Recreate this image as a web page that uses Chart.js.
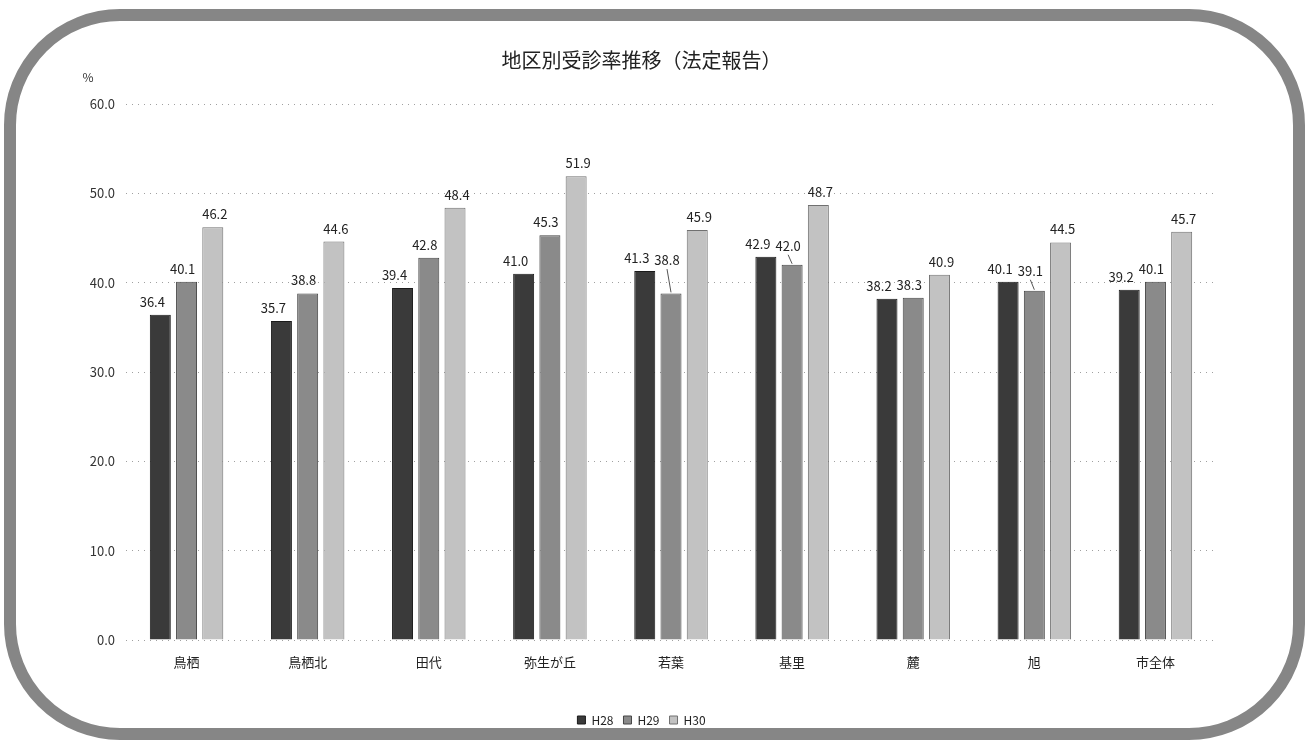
<!DOCTYPE html>
<html lang="ja">
<head>
<meta charset="utf-8">
<title>地区別受診率推移（法定報告）</title>
<script src="https://cdn.jsdelivr.net/npm/chart.js@4/dist/chart.umd.min.js"></script>
<style>
  html, body { margin: 0; padding: 0; background: #ffffff; }
  #wrap { width: 1309px; height: 740px; }
</style>
</head>
<body>
<div id="wrap"><canvas id="chart" width="1309" height="740"></canvas></div>
<script>
// 地区別の受診率（%）
const categories = ['鳥栖', '鳥栖北', '田代', '弥生が丘', '若葉', '基里', '麓', '旭', '市全体'];
const seriesNames = ['H28', 'H29', 'H30'];
const h28 = [36.4, 35.7, 39.4, 41.0, 41.3, 42.9, 38.2, 40.1, 39.2];
const h29 = [40.1, 38.8, 42.8, 45.3, 38.8, 42.0, 38.3, 39.1, 40.1];
const h30 = [46.2, 44.6, 48.4, 51.9, 45.9, 48.7, 40.9, 44.5, 45.7];
const yTicks = [0, 10, 20, 30, 40, 50, 60];

const FONT = '"Noto Sans CJK JP", "Noto Sans", "Liberation Sans", sans-serif';
const fills = ['#3a3a3a', '#8a8a8a', '#c2c2c2'];
const edges = ['#1a1a1a', '#444444', '#707070'];

// rounded frame around the whole chart
const framePlugin = {
  id: 'frame',
  beforeDraw(chart) {
    const c = chart.ctx;
    c.save();
    c.fillStyle = '#ffffff';
    c.fillRect(0, 0, chart.width, chart.height);
    c.strokeStyle = '#868686';
    c.lineWidth = 12;
    c.beginPath();
    c.roundRect(10, 15, chart.width - 20, chart.height - 21, 110);
    c.stroke();
    c.restore();
  },
  afterDraw(chart) {
    // unit label above the value axis
    const c = chart.ctx;
    const a = chart.chartArea;
    c.save();
    c.font = '12px ' + FONT;
    c.fillStyle = '#333';
    c.textAlign = 'center';
    c.textBaseline = 'middle';
    c.fillText('%', a.left - 38, a.top - 27);
    c.restore();
  }
};

// value labels above each bar, lifted with a leader line when they would collide
const valueLabels = {
  id: 'valueLabels',
  afterDatasetsDraw(chart, args, opts) {
    const c = chart.ctx;
    const dx = opts.dx;
    c.save();
    c.font = '13px ' + FONT;
    c.fillStyle = '#222';
    c.strokeStyle = '#555';
    c.lineWidth = 1;
    c.textAlign = 'center';
    c.textBaseline = 'middle';
    const n = chart.data.labels.length;
    const metas = chart.data.datasets.map((_, d) => chart.getDatasetMeta(d));
    const h = 13;
    for (let i = 0; i < n; i++) {
      const placed = [];
      metas.forEach((meta, d) => {
        const el = meta.data[i];
        const v = chart.data.datasets[d].data[i];
        const text = v.toFixed(1);
        const w = c.measureText(text).width;
        const cx = el.x + dx[d];
        let cy = el.y - 13;
        let rect;
        for (let k = 0; k < 10; k++) {
          rect = { l: cx - w / 2 - 1, r: cx + w / 2 + 1, t: cy - h / 2, b: cy + h / 2 };
          let moved = false;
          metas.forEach((om, o) => {
            if (o === d) return;
            const ob = om.data[i];
            const bl = ob.x - ob.width / 2, br = ob.x + ob.width / 2;
            if (rect.r > bl && rect.l < br && rect.b > ob.y - 2) {
              cy = ob.y - 4 - h / 2;
              moved = true;
            }
          });
          placed.forEach(p => {
            const r2 = { l: cx - w / 2 - 1, r: cx + w / 2 + 1, t: cy - h / 2, b: cy + h / 2 };
            if (r2.r > p.l && r2.l < p.r && r2.b > p.t && r2.t < p.b) {
              cy = p.t - 3 - h / 2;
              moved = true;
            }
          });
          if (!moved) break;
        }
        rect = { l: cx - w / 2 - 1, r: cx + w / 2 + 1, t: cy - h / 2, b: cy + h / 2 };
        placed.push(rect);
        c.fillText(text, cx, cy);
        if (rect.b < el.y - 8) {
          c.beginPath();
          c.moveTo(cx, rect.b + 2);
          c.lineTo(el.x, el.y - 1);
          c.stroke();
        }
      });
    }
    c.restore();
  }
};

const chart = new Chart(document.getElementById('chart'), {
  type: 'bar',
  data: {
    labels: categories,
    datasets: [h28, h29, h30].map((vals, d) => ({
      label: seriesNames[d],
      data: vals,
      backgroundColor: fills[d],
      borderColor: edges[d],
      borderWidth: 1,
      categoryPercentage: 0.65,
      barPercentage: 0.8
    }))
  },
  options: {
    responsive: false,
    animation: false,
    devicePixelRatio: 1,
    layout: { padding: { top: 48, left: 10, right: 36, bottom: 4 } },
    plugins: {
      title: {
        display: true,
        text: '地区別受診率推移（法定報告）',
        color: '#222',
        font: { family: FONT, size: 20, weight: 'normal' },
        padding: { top: 0, bottom: 32 }
      },
      legend: {
        display: true,
        position: 'bottom',
        labels: {
          color: '#222',
          font: { family: FONT, size: 12 },
          boxWidth: 8,
          boxHeight: 8,
          padding: 10
        }
      },
      tooltip: { enabled: false },
      valueLabels: { dx: [-8, -4, 2] }
    },
    scales: {
      x: {
        grid: { display: false, drawTicks: false },
        border: { display: false },
        ticks: { color: '#222', font: { family: FONT, size: 13 }, padding: 14, maxRotation: 0 },
        afterFit(s) { s.height = 64; }
      },
      y: {
        min: 0,
        max: 60,
        afterBuildTicks(s) { s.ticks = yTicks.map(v => ({ value: v })); },
        grid: { color: '#a0a0a0', lineWidth: 1, drawTicks: false },
        border: { display: false, dash: [1, 5] },
        ticks: {
          color: '#333',
          font: { family: FONT, size: 13 },
          padding: 11,
          callback: v => Number(v).toFixed(1)
        },
        afterFit(s) { s.width = 116; }
      },
      yRight: {
        position: 'right',
        display: true,
        grid: { display: false, drawTicks: false },
        border: { display: false },
        ticks: { display: false },
        afterFit(s) { s.width = 57; }
      }
    }
  },
  plugins: [framePlugin, valueLabels]
});
</script>
</body>
</html>
